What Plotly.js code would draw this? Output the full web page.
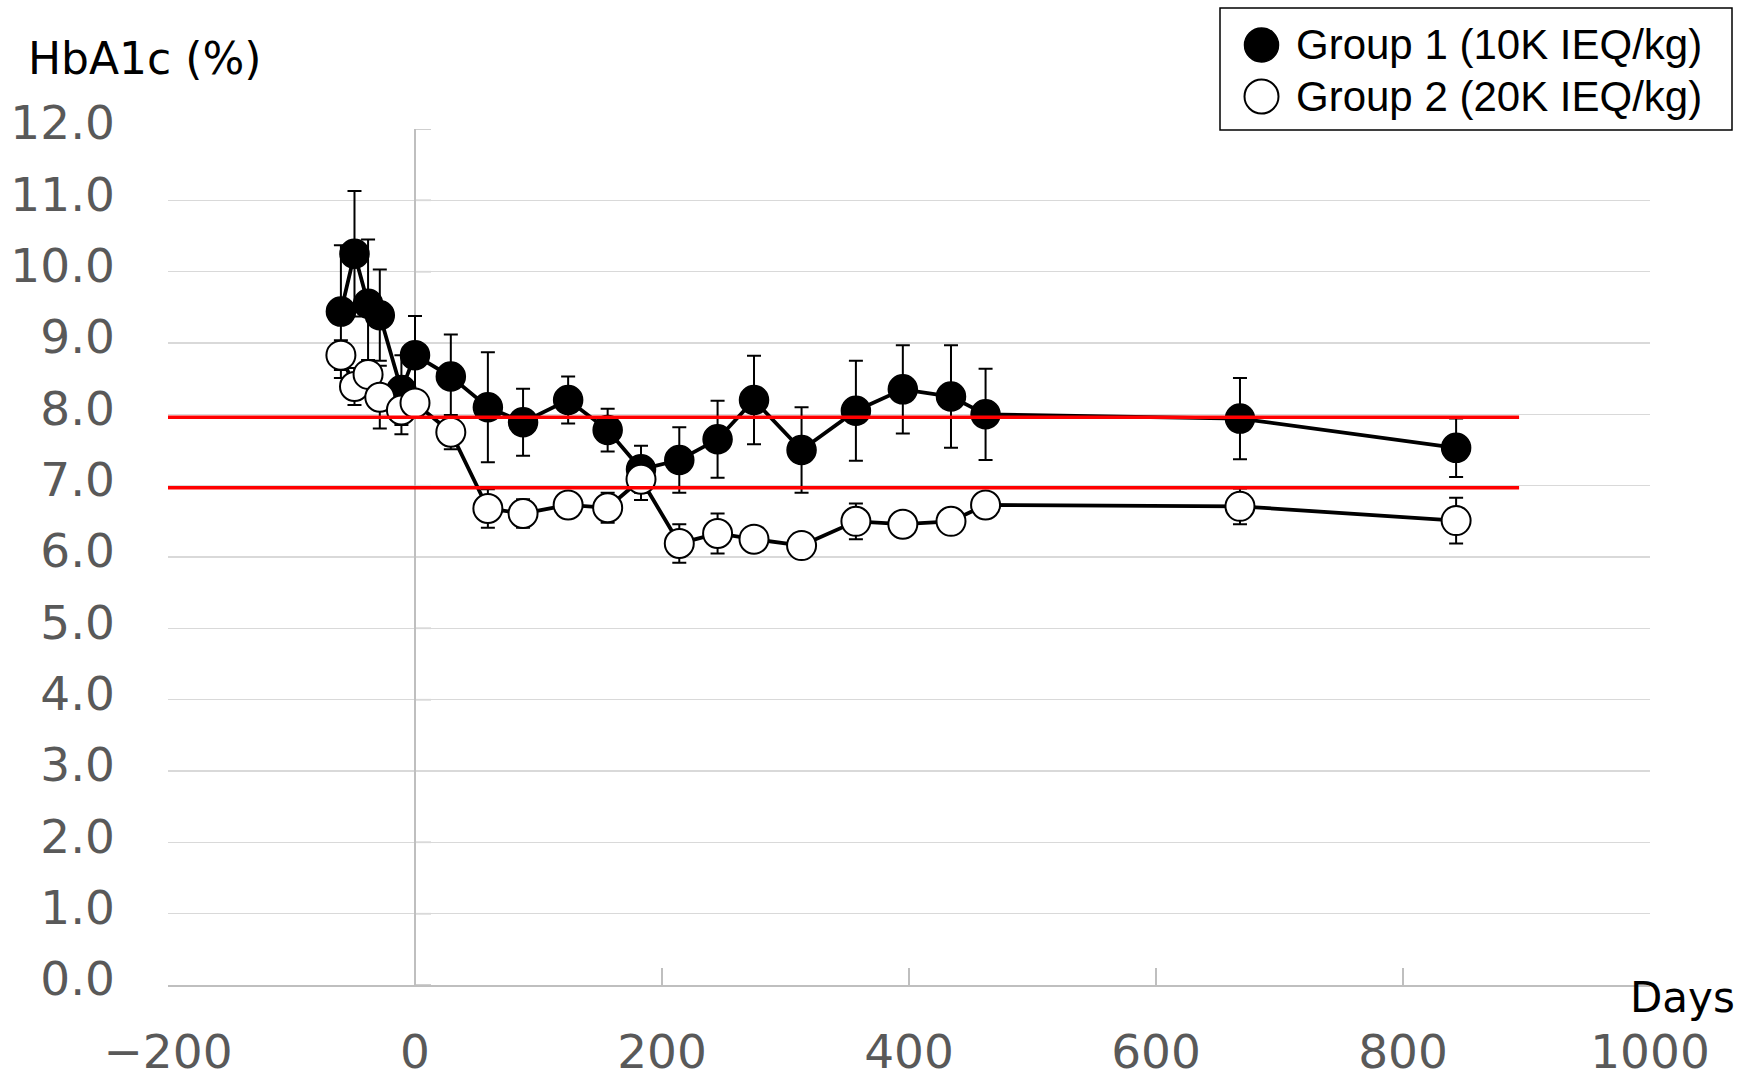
<!DOCTYPE html>
<html>
<head>
<meta charset="utf-8">
<script src="https://cdn.plot.ly/plotly-3.0.1.min.js"></script>
<style>html,body{margin:0;padding:0;background:#fff;}#chart{width:1755px;height:1079px;}</style>
</head>
<body>
<div id="chart"></div>
<script>
// ---- data ----
const days = [-60, -49, -38, -28.5, -11, 0, 29, 59, 87.5, 124, 156, 183, 214, 245, 274.5, 313, 357, 395, 434, 462, 668, 843];
const group1 = [9.44, 10.25, 9.55, 9.39, 8.34, 8.83, 8.53, 8.10, 7.89, 8.20, 7.78, 7.23, 7.36, 7.65, 8.20, 7.50, 8.05, 8.35, 8.25, 8.00, 7.94, 7.53];
const group1Err = [0.93, 0.88, 0.90, 0.64, 0.49, 0.55, 0.59, 0.77, 0.47, 0.33, 0.30, 0.33, 0.46, 0.54, 0.62, 0.60, 0.70, 0.62, 0.72, 0.64, 0.57, 0.41];
const group2 = [8.83, 8.39, 8.56, 8.24, 8.06, 8.16, 7.75, 6.68, 6.61, 6.73, 6.69, 7.09, 6.19, 6.33, 6.25, 6.16, 6.50, 6.46, 6.50, 6.73, 6.71, 6.51];
const group2Err = [0.21, 0.26, 0.20, 0.44, 0.34, 0.15, 0.24, 0.27, 0.20, 0.12, 0.21, 0.29, 0.27, 0.28, 0.12, 0.12, 0.25, 0.12, 0.12, 0.12, 0.25, 0.32];
const targetLines = [7.96, 6.97];
const targetLineEnd = 894;
const xTicks = [-200, 0, 200, 400, 600, 800, 1000];
const yTicks = [0, 1, 2, 3, 4, 5, 6, 7, 8, 9, 10, 11, 12];
const seriesNames = ['Group 1 (10K IEQ/kg)', 'Group 2 (20K IEQ/kg)'];

const W = 1755, H = 1079;
const M = {l: 168, r: 105, t: 129, b: 94};
const PW = W - M.l - M.r, PH = H - M.t - M.b;
const px2x = p => (p - M.l) / PW;
const py2y = p => (H - M.b - p) / PH;

const tickFont = {family: 'DejaVu Sans', size: 47, color: '#595959'};

const traces = [
  {
    x: days, y: group1, name: seriesNames[0], type: 'scatter', mode: 'lines+markers',
    line: {color: '#000', width: 3.8},
    marker: {symbol: 'circle', size: 29, color: '#000', line: {color: '#000', width: 1.5}},
    error_y: {type: 'data', array: group1Err, visible: true, color: '#000', thickness: 2, width: 7},
    cliponaxis: false
  },
  {
    x: days, y: group2, name: seriesNames[1], type: 'scatter', mode: 'lines+markers',
    line: {color: '#000', width: 3.8},
    marker: {symbol: 'circle', size: 29, color: '#fff', line: {color: '#000', width: 2}},
    error_y: {type: 'data', array: group2Err, visible: true, color: '#000', thickness: 2, width: 7},
    cliponaxis: false
  }
];

const shapes = [];
// target lines
targetLines.forEach(v => shapes.push({
  type: 'line', xref: 'x', yref: 'y', x0: -200, x1: targetLineEnd, y0: v, y1: v,
  line: {color: '#ff0000', width: 3.5}, layer: 'above'
}));
// small ticks on the vertical axis line at x = 0
yTicks.forEach(v => shapes.push({
  type: 'line', xref: 'x', yref: 'y', xsizemode: 'pixel', xanchor: 0, x0: 0, x1: 16, y0: v, y1: v,
  line: {color: '#bfbfbf', width: 1.5}, layer: 'below'
}));
// legend box
const lgL = 1220, lgR = 1732, lgT = 8, lgB = 130;
shapes.push({type: 'rect', xref: 'paper', yref: 'paper', x0: px2x(lgL), x1: px2x(lgR), y0: py2y(lgB), y1: py2y(lgT),
  line: {color: '#000', width: 1.5}, fillcolor: '#fff', layer: 'above'});
const lgCx = 1261.5, lgCy = [45, 96.5], lgR0 = 17;
shapes.push({type: 'circle', xref: 'paper', yref: 'paper', xsizemode: 'pixel', ysizemode: 'pixel',
  xanchor: px2x(lgCx), yanchor: py2y(lgCy[0]), x0: -lgR0, x1: lgR0, y0: -lgR0, y1: lgR0,
  fillcolor: '#000', line: {color: '#000', width: 1.5}, layer: 'above'});
shapes.push({type: 'circle', xref: 'paper', yref: 'paper', xsizemode: 'pixel', ysizemode: 'pixel',
  xanchor: px2x(lgCx), yanchor: py2y(lgCy[1]), x0: -lgR0, x1: lgR0, y0: -lgR0, y1: lgR0,
  fillcolor: '#fff', line: {color: '#000', width: 2}, layer: 'above'});

const annotations = [
  {text: 'HbA1c (%)', xref: 'paper', yref: 'paper', x: px2x(26), y: py2y(58), xanchor: 'left', yanchor: 'middle',
   showarrow: false, font: {family: 'DejaVu Sans', size: 44, color: '#000'}},
  {text: 'Days', xref: 'paper', yref: 'paper', x: px2x(1737), y: py2y(998), xanchor: 'right', yanchor: 'middle',
   showarrow: false, font: {family: 'DejaVu Sans', size: 42, color: '#000'}},
  {text: seriesNames[0], xref: 'paper', yref: 'paper', x: px2x(1294), y: py2y(lgCy[0]), xanchor: 'left', yanchor: 'middle',
   showarrow: false, font: {family: 'Liberation Sans', size: 42, color: '#000'}},
  {text: seriesNames[1], xref: 'paper', yref: 'paper', x: px2x(1294), y: py2y(lgCy[1]), xanchor: 'left', yanchor: 'middle',
   showarrow: false, font: {family: 'Liberation Sans', size: 42, color: '#000'}}
];

const layout = {
  width: W, height: H,
  margin: M,
  paper_bgcolor: '#fff', plot_bgcolor: '#fff',
  showlegend: false,
  xaxis: {
    range: [-200, 1000], tickvals: xTicks, ticktext: xTicks.map(v => v < 0 ? '\u2212' + Math.abs(v) : String(v)),
    showgrid: false, zeroline: true, zerolinecolor: '#bfbfbf', zerolinewidth: 1.5,
    showline: true, linecolor: '#bfbfbf', linewidth: 1.5,
    ticks: 'inside', ticklen: 17, tickwidth: 1.5, tickcolor: '#bfbfbf',
    tickfont: tickFont, ticklabelstandoff: 25, fixedrange: true
  },
  yaxis: {
    range: [0, 12], tickvals: yTicks, ticktext: yTicks.map(v => v.toFixed(1)),
    showgrid: true, gridcolor: '#d9d9d9', gridwidth: 1.5,
    zeroline: false, showline: false, ticks: '',
    tickfont: tickFont, ticklabelstandoff: 52, ticklabelshift: -6, fixedrange: true
  },
  shapes: shapes,
  annotations: annotations
};

Plotly.newPlot('chart', traces, layout, {displayModeBar: false, staticPlot: true});
</script>
</body>
</html>
